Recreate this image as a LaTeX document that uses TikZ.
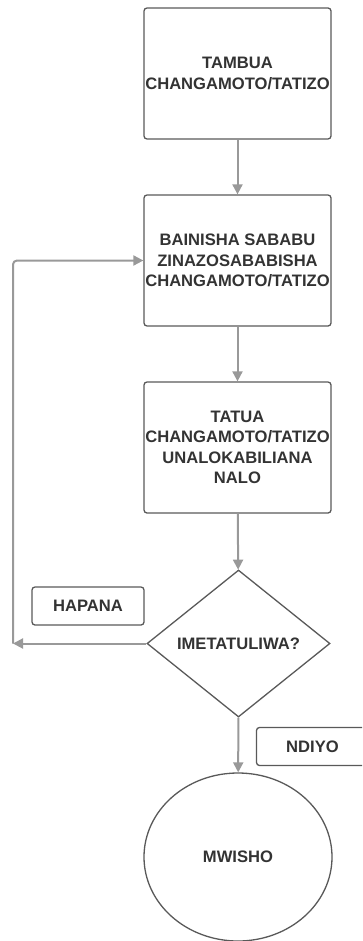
\documentclass[tikz,border=0pt]{standalone}
\usepackage{fontspec}
\setmainfont{Liberation Sans}
\usetikzlibrary{arrows.meta,shapes.geometric}
\tikzset{
  hatua/.style={draw=black!65, line width=1.3pt, rounded corners=3pt, minimum width=187pt, minimum height=131pt, align=center, inner sep=0pt},
  lebo/.style={draw=black!65, line width=1.3pt, rounded corners=3pt, minimum width=112pt, minimum height=38pt, inner sep=0pt},
  mshale/.style={draw=black!40, line width=2pt, -{Triangle[length=10pt,width=10pt]}}
}
\begin{document}
\begin{tikzpicture}[x=1pt, y=-1pt, font=\bfseries\fontsize{16.6}{20.5}\selectfont, text=black!80]
    \clip (0,0) rectangle (362,941);
    \node[hatua] (tambua) at (237.5,73.5) {TAMBUA\\CHANGAMOTO/TATIZO};
    \node[hatua] (bainisha) at (237.5,260.5) {BAINISHA SABABU\\ZINAZOSABABISHA\\CHANGAMOTO/TATIZO};
    \node[hatua] (tatua) at (237.5,447.5) {TATUA\\CHANGAMOTO/TATIZO\\UNALOKABILIANA\\NALO};
    \node[diamond, draw=black!65, line width=1.3pt, minimum width=183pt, minimum height=147pt, inner sep=0pt] (swali) at (238.5,643.5) {IMETATULIWA?};
    \node[ellipse, draw=black!65, line width=1.3pt, minimum width=188pt, minimum height=168pt] (mwisho) at (238,857) {MWISHO};
    \node[lebo] (hapana) at (88,606) {HAPANA};
    \node[lebo] (ndiyo) at (312.5,746.5) {NDIYO};
    \coordinate (kona) at (13,643.5);
    \draw[mshale] (tambua) -- (bainisha);
    \draw[mshale] (bainisha) -- (tatua);
    \draw[mshale] (tatua) -- (swali);
    \draw[mshale] (swali) -- (kona);
    \draw[mshale, rounded corners=4pt] (kona) |- (bainisha.west);
    \draw[mshale] (swali) -- (mwisho);
\end{tikzpicture}
\end{document}
